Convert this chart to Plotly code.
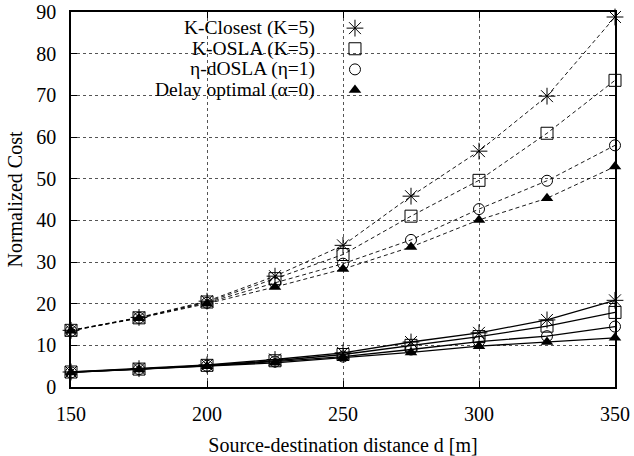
import plotly.graph_objects as go

# Data
distance = [150, 175, 200, 225, 250, 275, 300, 325, 350]

# Upper group (dashed lines)
k_closest_hi = [13.6, 16.7, 20.6, 26.6, 34.0, 45.8, 56.6, 69.8, 88.8]
k_osla_hi = [13.6, 16.6, 20.4, 26.0, 31.8, 41.0, 49.6, 60.9, 73.6]
eta_dosla_hi = [13.5, 16.6, 20.2, 25.0, 29.6, 35.3, 42.7, 49.5, 58.0]
delay_opt_hi = [13.5, 16.5, 20.0, 24.0, 28.3, 33.6, 40.1, 45.3, 52.9]

# Lower group (solid lines)
k_closest_lo = [3.6, 4.4, 5.3, 6.6, 8.2, 10.8, 13.0, 16.1, 20.8]
k_osla_lo = [3.6, 4.3, 5.2, 6.3, 7.8, 10.0, 12.1, 14.6, 17.9]
eta_dosla_lo = [3.5, 4.3, 5.1, 6.1, 7.3, 9.0, 10.9, 12.2, 14.5]
delay_opt_lo = [3.5, 4.2, 5.0, 5.8, 7.0, 8.3, 9.8, 10.8, 11.8]

legend_labels = ["K-Closest (K=5)", "K-OSLA (K=5)", "\u03b7-dOSLA (\u03b7=1)", "Delay optimal (\u03b1=0)"]
x_ticks = [150, 200, 250, 300, 350]
y_ticks = [0, 10, 20, 30, 40, 50, 60, 70, 80, 90]

FONT = "Liberation Serif"
FS = 20
FS_KEY = 19.5

styles = [
    dict(symbol="asterisk-open", size=14, color="black", line=dict(width=1, color="black")),
    dict(symbol="square-open", size=12, color="black", line=dict(width=1, color="black")),
    dict(symbol="circle-open", size=11, color="black", line=dict(width=1, color="black")),
    dict(symbol="triangle-up", size=11, color="black", line=dict(width=0, color="black")),
]

fig = go.Figure()

hi = [k_closest_hi, k_osla_hi, eta_dosla_hi, delay_opt_hi]
lo = [k_closest_lo, k_osla_lo, eta_dosla_lo, delay_opt_lo]

for vals, st in zip(hi, styles):
    fig.add_trace(go.Scatter(
        x=distance, y=vals, mode="lines+markers",
        line=dict(color="black", width=0.9, dash="4px,3px"),
        marker=st, cliponaxis=False, showlegend=False,
    ))
for vals, st in zip(lo, styles):
    fig.add_trace(go.Scatter(
        x=distance, y=vals, mode="lines+markers",
        line=dict(color="black", width=1.3),
        marker=st, cliponaxis=False, showlegend=False,
    ))

# Legend (gnuplot-style: right-aligned text, symbol to the right)
key_rows = [0.957, 0.902, 0.847, 0.792]
key_text_x = 0.451
key_sym_x = 0.522
for lab, yy in zip(legend_labels, key_rows):
    fig.add_annotation(
        x=key_text_x, y=yy, xref="paper", yref="paper", text=lab,
        showarrow=False, xanchor="right", yanchor="middle", borderpad=0,
        font=dict(family=FONT, size=FS_KEY, color="black"),
    )
for st, yy in zip(styles, key_rows):
    fig.add_trace(go.Scatter(
        x=[key_sym_x], y=[yy], xaxis="x2", yaxis="y2", mode="markers",
        marker=st, showlegend=False, cliponaxis=False, hoverinfo="skip",
    ))

axis_common = dict(
    showline=True, linecolor="black", linewidth=1.5, mirror="allticks",
    ticks="inside", ticklen=6, tickcolor="black", tickwidth=1,
    showgrid=True, gridcolor="#555555", gridwidth=1, griddash="dot",
    zeroline=False, automargin=False,
    tickfont=dict(family=FONT, size=FS, color="black"),
)

fig.update_layout(
    width=634, height=456,
    margin=dict(l=71, r=19, t=12, b=69),
    paper_bgcolor="white", plot_bgcolor="white",
    xaxis=dict(
        range=[150, 350], tickvals=x_ticks, ticklabelstandoff=8,
        title=dict(text="Source-destination distance d [m]", font=dict(family=FONT, size=FS, color="black"), standoff=14),
        **axis_common,
    ),
    yaxis=dict(
        range=[0, 90], tickvals=y_ticks, ticklabelstandoff=9,
        title=dict(text="Normalized Cost", font=dict(family=FONT, size=FS, color="black"), standoff=8),
        **axis_common,
    ),
    xaxis2=dict(range=[0, 1], overlaying="x", visible=False, fixedrange=True),
    yaxis2=dict(range=[0, 1], overlaying="y", visible=False, fixedrange=True),
    showlegend=False,
)

fig.write_html("out.html")
